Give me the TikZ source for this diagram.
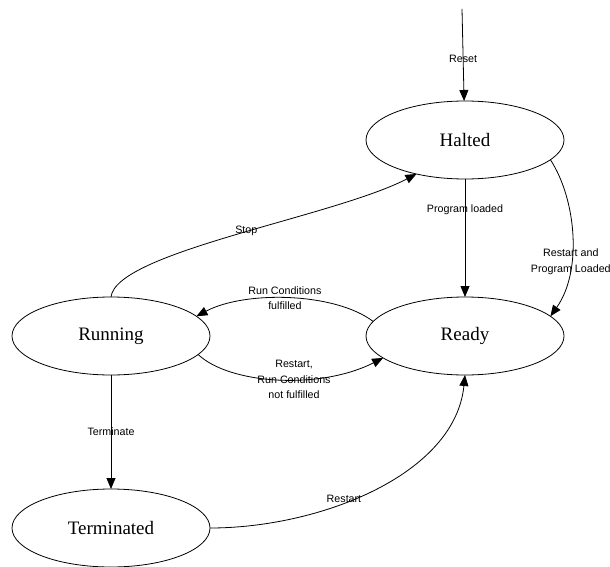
\documentclass[tikz,border=0pt]{standalone}
\usepackage{fontspec}
\setmainfont{Liberation Serif}
\setsansfont{Liberation Sans}
\usepackage{tikz}
\usetikzlibrary{arrows.meta,positioning,shapes.geometric}
\tikzset{
  state/.style={ellipse,draw,line width=0.8pt,minimum width=198pt,minimum height=78pt,
    inner sep=0pt,outer sep=0pt,font=\fontsize{19}{21}\selectfont},
  lbl/.style={font=\sffamily\fontsize{10.7}{15.5}\selectfont,align=center,inner sep=0pt},
  arr/.style={-{Triangle[length=11pt,width=9pt]},line width=0.8pt},
}

\begin{document}
\begin{tikzpicture}[x=1pt,y=-1pt,node distance=118pt]
\useasboundingbox (0,0) rectangle (610,567);

% ---- states ----
\node[state] (halted) at (465,140) {Halted};
\node[state,below=118pt of halted] (ready) {Ready};
\node[state,left=156pt of ready] (running) {Running};
\node[state,below=114pt of running] (term) {Terminated};
\coordinate (rst) at (462,9);

% ---- transitions ----
\draw[arr] (rst) -- node[lbl,pos=0.54] {Reset} (halted);
\draw[arr] (halted) -- node[lbl,pos=0.26] {Program loaded} (ready);
\draw[arr] (halted.347) .. controls +(26,40) and +(32,-45) ..
  node[lbl,pos=0.65] {Restart and\\Program Loaded} (ready.13);
\draw[arr] (running.north) .. controls +(5,-45) and +(-83,43) ..
  node[lbl,pos=0.53] {Stop} (halted.215);
\draw[arr] (ready.171) .. controls +(-38,-29) and +(49,-26) ..
  node[lbl,pos=0.5,xshift=-4pt] {Run Conditions\\fulfilled} (running.13);
\draw[arr] (running.348) .. controls +(32,30) and +(-63,32) ..
  node[lbl,pos=0.5,xshift=15pt] {Restart,\\Run Conditions\\not fulfilled} (ready.195);
\draw[arr] (running) -- node[lbl] {Terminate} (term);
\draw[arr] (term.east) .. controls +(109,0) and +(-10,100) ..
  node[lbl,pos=0.4,yshift=4pt] {Restart} (ready.south);
\end{tikzpicture}
\end{document}
